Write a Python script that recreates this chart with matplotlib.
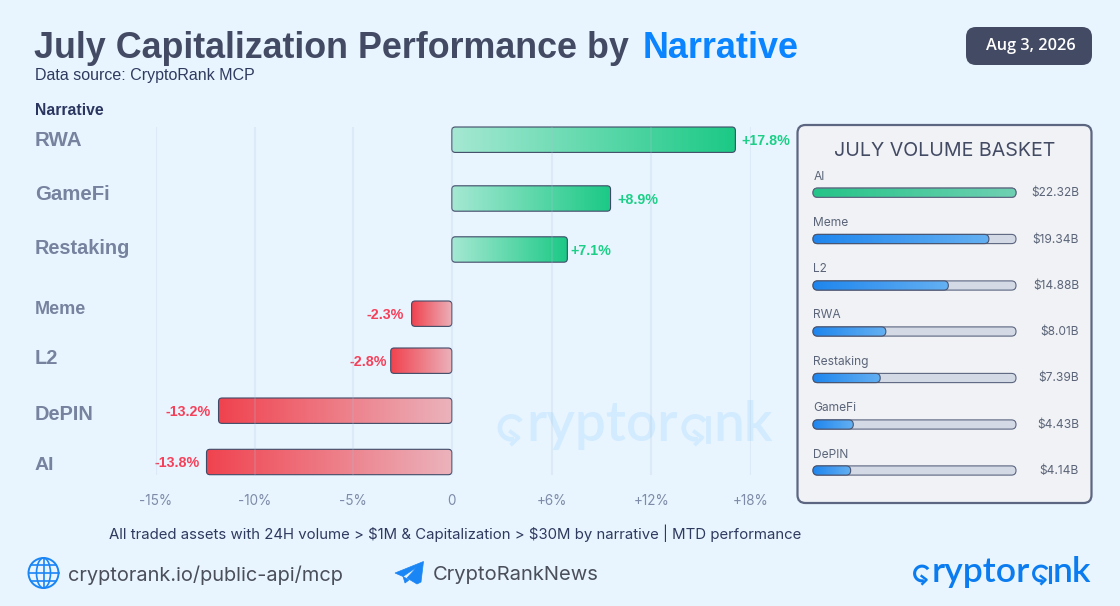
import numpy as np
import matplotlib
matplotlib.use("Agg")
import matplotlib.pyplot as plt
from matplotlib.patches import FancyBboxPatch, Polygon, Circle, Ellipse
from matplotlib.colors import LinearSegmentedColormap

# chart data
narratives = ["RWA", "GameFi", "Restaking", "Meme", "L2", "DePIN", "AI"]
bar_lengths = [17.06, 9.55, 6.95, -2.04, -3.1, -11.83, -12.44]
pct_labels = ["+17.8%", "+8.9%", "+7.1%", "-2.3%", "-2.8%", "-13.2%", "-13.8%"]
tick_values = [-15, -10, -5, 0, 6, 12, 18]
tick_labels = ["-15%", "-10%", "-5%", "0", "+6%", "+12%", "+18%"]
basket_names = ["AI", "Meme", "L2", "RWA", "Restaking", "GameFi", "DePIN"]
basket_values = [22.32, 19.34, 14.88, 8.01, 7.39, 4.43, 4.14]

# layout, in pixels
W, H = 1120, 606
bar_centers = [139.7, 198.5, 249.5, 313.7, 360.7, 410.7, 462]
label_centers = [140, 194, 249, 310, 358, 414, 465]
label_sizes = [20.5, 20.4, 19.9, 18, 20, 20, 19.5]
pct_offsets = [6, 7, 3.5, 8, 3.5, 8, 6.5]
pct_centers = [141, 200, 251, 315, 362, 411.5, 463]
basket_bar_centers = [192.7, 239, 285.5, 331.5, 378, 424.5, 470.5]
basket_label_centers = [176.5, 223, 269, 315.5, 362, 408, 454.5]

BG = "#e8f5ff"
DARK = "#434a63"
NAVY = "#2f3a5f"
BLUE = "#0a84ff"
GRAY = "#76829e"
SANS = "Liberation Sans"
INTER = "Inter"


def px(n):
    return n * 0.72


def to_px_x(ax, v):
    return ax.transData.transform((v, 0))[0]


def gradient_box(ax, x0, x1, y0, y1, c0, c1, edge, lw, radius, z=3):
    cmap = LinearSegmentedColormap.from_list("g", [c0, c1])
    img = ax.imshow(np.linspace(0, 1, 256).reshape(1, -1), extent=(x0, x1, y1, y0), cmap=cmap,
                    aspect="auto", zorder=z, interpolation="bilinear")
    box = FancyBboxPatch((x0, y0), x1 - x0, y1 - y0, boxstyle=f"round,pad=0,rounding_size={radius}",
                         fc="none", ec=edge, lw=lw, zorder=z + 0.1)
    ax.add_patch(box)
    img.set_clip_path(box)


def arrow_arc(ax, cx, cy, r, lw, color, z):
    # open loop with a small chevron, the logo's c and a
    t = np.radians(np.linspace(35, 285, 50))
    ax.plot(cx + r * np.cos(t), cy - r * np.sin(t), color=color, lw=lw, zorder=z, solid_capstyle="butt")
    ax.plot([cx - 0.05 * r, cx + 0.62 * r, cx + 0.05 * r],
            [cy + 0.35 * r, cy + 0.85 * r, cy + 1.4 * r], color=color, lw=lw * 0.8, zorder=z)


def draw_logo(ax, x, base, scale, color, z):
    lw = 2.2 * scale
    arrow_arc(ax, x + 8 * scale, base - 8.5 * scale, 7.4 * scale, lw, color, z)
    for part, off in [("ryptor", 18), ("nk", 139)]:
        ax.text(x + off * scale, base, part, ha="left", va="baseline", color=color, family="Lato",
                weight="semibold", fontsize=px(35.5 * scale), zorder=z)
    arrow_arc(ax, x + 127 * scale, base - 8.5 * scale, 7.4 * scale, lw, color, z)
    ax.plot([x + 135.5 * scale] * 2, [base - 15 * scale, base - 0.3 * scale], color=color, lw=lw, zorder=z)


fig = plt.figure(figsize=(W / 100, H / 100), dpi=100, facecolor=BG)

# base layer in pixel coordinates
base = fig.add_axes([0, 0, 1, 1], zorder=0)
base.set_xlim(0, W)
base.set_ylim(H, 0)
base.axis("off")

# chart axes, uneven scale left and right of zero
ax = fig.add_axes([156 / W, 1 - 475 / H, (751 - 156) / W, (475 - 127) / H], zorder=1)
ax.patch.set_alpha(0)


def forward(x):
    x = np.asarray(x, dtype=float)
    return np.where(x < 0, x * 19.72, x * 16.62)


def inverse(x):
    x = np.asarray(x, dtype=float)
    return np.where(x < 0, x / 19.72, x / 16.62)


ax.set_xscale("function", functions=(forward, inverse))
ax.set_xlim(-15, 18)
ax.set_ylim(475, 127)
for s in ax.spines.values():
    s.set_visible(False)
ax.set_yticks([])
ax.set_xticks(tick_values, tick_labels)
ax.minorticks_off()
ax.tick_params(axis="x", length=0, pad=14, labelcolor="#7d8ba8", labelsize=px(13.5))
for t in ax.get_xticklabels():
    t.set_family(INTER)
ax.grid(axis="x", color="#a9c0d6", alpha=0.2, lw=1.5)
ax.set_axisbelow(False)

bars = ax.barh(bar_centers, bar_lengths, height=25.5, color="none", lw=0)

for i, b in enumerate(bars):
    x0 = to_px_x(ax, min(b.get_x(), b.get_x() + b.get_width()))
    x1 = to_px_x(ax, max(b.get_x(), b.get_x() + b.get_width()))
    y0, y1 = bar_centers[i] - 12.7, bar_centers[i] + 12.7
    if bar_lengths[i] > 0:
        gradient_box(base, x0, x1, y0, y1, "#a5e8d3", "#1bc985", "#3f4a66", 0.8, 3.5)
        base.text(x1 + pct_offsets[i], pct_centers[i], pct_labels[i], ha="left", va="center",
                  color="#1ccf87", family=SANS, weight="bold", fontsize=px(14.2), zorder=6)
    else:
        gradient_box(base, x0, x1, y0, y1, "#f0434f", "#ebb3bc", "#3f4a66", 0.8, 3.5)
        base.text(x0 - pct_offsets[i], pct_centers[i], pct_labels[i], ha="right", va="center",
                  color="#f5405a", family=SANS, weight="bold", fontsize=px(14.2), zorder=6)

for name, y, size in zip(narratives, label_centers, label_sizes):
    base.text(35, y, name, ha="left", va="center", color=GRAY, family=SANS, weight="bold", fontsize=px(size))

# title
base.text(34.5, 58, "July Capitalization Performance by", ha="left", va="baseline", color=DARK,
          family=SANS, weight="bold", fontsize=px(35.85))
base.text(643, 58, "Narrative", ha="left", va="baseline", color=BLUE, family=SANS, weight="bold", fontsize=px(36))
base.text(35, 80, "Data source: CryptoRank MCP", ha="left", va="baseline", color=NAVY, family=SANS, fontsize=px(16))
base.text(35, 115, "Narrative", ha="left", va="baseline", color="#2a3560", family=SANS, weight="bold", fontsize=px(15.8))

# date pill
base.add_patch(FancyBboxPatch((966, 27), 126, 38, boxstyle="round,pad=0,rounding_size=10", fc=DARK, ec="none"))
base.text(1031, 46, "Aug 3, 2026", ha="center", va="center", color="white", family="Open Sans", weight="semibold",
          fontsize=px(16.3))

# volume basket panel
base.add_patch(FancyBboxPatch((797.5, 125), 294, 378, boxstyle="round,pad=0,rounding_size=8",
                              fc="#f0f2f5", ec="#5d6680", lw=1.6, zorder=1))
base.text(944.5, 150.5, "JULY VOLUME BASKET", ha="center", va="center", color=DARK, family=INTER, fontsize=px(19.6),
          zorder=2)

pax = fig.add_axes([813 / W, 1 - 475 / H, (1016 - 813) / W, (475 - 188) / H], zorder=-1)
pax.set_xlim(0, max(basket_values))
pax.axis("off")

for i, (name, val) in enumerate(zip(basket_names, basket_values)):
    yc = basket_bar_centers[i]
    end = to_px_x(pax, val)
    base.add_patch(FancyBboxPatch((813, yc - 4.6), 203, 9.2, boxstyle="round,pad=0,rounding_size=4.5",
                                  fc="#d3dae6", ec="#5d6680", lw=0.8, zorder=2))
    if i == 0:
        gradient_box(base, 813, end, yc - 4.6, yc + 4.6, "#25c488", "#6fd0b2", "#5d6680", 0.8, 4.5)
    else:
        gradient_box(base, 813, end, yc - 4.6, yc + 4.6, "#1f86ee", "#64b0f2", "#4a5570", 0.8, 4.5)
    base.text(813.5, basket_label_centers[i], name, ha="left", va="center", color="#5b6478", family=INTER,
              fontsize=px(12), zorder=4)
    base.text(1079, yc + 0.5, f"\\${val:.2f}B", ha="right", va="center", color="#5b6478", family=INTER,
              fontsize=px(12), zorder=4)

# note and footer
base.text(455.5, 533, "All traded assets with 24H volume > \\$1M & Capitalization > \\$30M by narrative | MTD performance",
          ha="center", va="center", color=NAVY, family=INTER, fontsize=px(14.95))
base.text(68, 575, "cryptorank.io/public-api/mcp", ha="left", va="center", color="#4a4f5a", family=INTER, fontsize=px(20))
base.text(433, 575, "CryptoRankNews", ha="left", va="center", color="#4a4f5a", family=INTER, fontsize=px(20.2))

# globe icon
ICON = "#1a85f5"
base.add_patch(Circle((43.5, 573), 15, fc="none", ec=ICON, lw=1.4))
base.add_patch(Ellipse((43.5, 573), 14, 30, fc="none", ec=ICON, lw=1.2))
base.plot([43.5, 43.5], [558, 588], color=ICON, lw=1.2)
base.plot([28.5, 58.5], [573, 573], color=ICON, lw=1.2)
base.plot([31, 56], [565, 565], color=ICON, lw=1.2)
base.plot([31, 56], [581, 581], color=ICON, lw=1.2)

# telegram plane icon
base.add_patch(Polygon([(423.5, 561.5), (395, 573), (403, 576.5), (417, 567), (407, 578),
                        (417, 584), (421, 582)], closed=True, fc=ICON, ec=ICON, lw=0.5))
base.add_patch(Polygon([(403, 576.5), (405, 583), (409, 580)], closed=True, fc=ICON, ec=ICON, lw=0.5))

# logos
draw_logo(base, 914, 582, 1.0, "#0a7cf0", 5)
draw_logo(base, 499, 441, 1.545, "#d3ebff", 0.5)

base.set_xlim(0, W)
base.set_ylim(H, 0)
base.set_aspect("auto")
fig.savefig("out.png", dpi=100, facecolor=BG)
